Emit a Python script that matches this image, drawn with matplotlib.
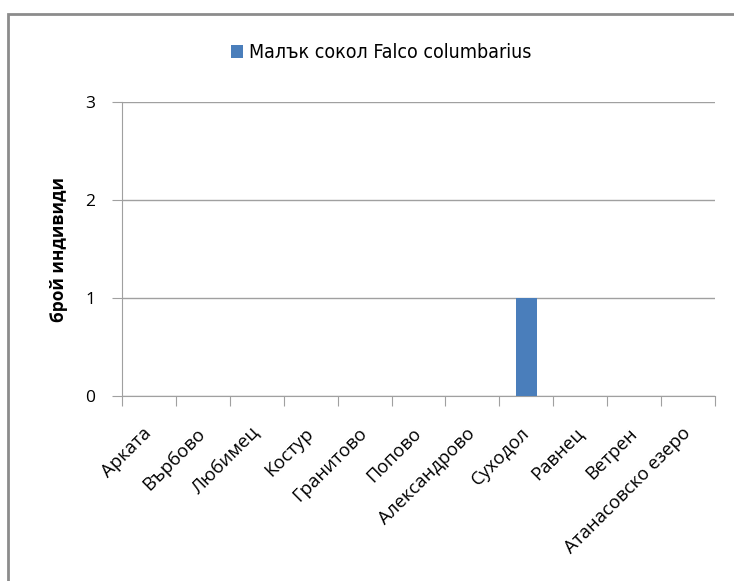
import numpy as np
from matplotlib import pyplot as plt
from matplotlib.patches import Rectangle

plt.rcParams['font.family'] = ['Open Sans', 'DejaVu Sans']

sites = ["Арката", "Върбово", "Любимец", "Костур", "Гранитово", "Попово",
         "Александрово", "Суходол", "Равнец", "Ветрен", "Атанасовско езеро"]
counts = [0, 0, 0, 0, 0, 0, 0, 1, 0, 0, 0]
series_name = "Малък сокол Falco columbarius"
y_ticks = [0, 1, 2, 3]

fig = plt.figure(figsize=(7.34, 5.81), dpi=100)
ax = fig.add_axes([0.1662, 0.3184, 0.808, 0.506])

# outer chart frame (cropped on right and bottom)
fig.patches.append(Rectangle((0.0109, -0.1), 1.2, 1.076, transform=fig.transFigure,
                             fill=False, edgecolor="#8c8c8c", linewidth=2))

x = np.arange(len(sites))
bars = ax.bar(x, counts, width=0.39, color="#4a7ebb", label=series_name, zorder=3)

ax.set_xlim(-0.5, len(sites) - 0.5)
ax.set_ylim(0, 3)
ax.set_yticks(y_ticks)
ax.set_yticklabels([str(v) for v in y_ticks], fontsize=12.5)
ax.yaxis.grid(True, color="#a0a0a0", linewidth=1, zorder=0)
ax.tick_params(axis='y', length=7, color="#a0a0a0", pad=12)

ax.set_xticks(np.arange(len(sites) + 1) - 0.5)
ax.set_xticklabels([])
ax.set_xticks(x, minor=True)
ax.set_xticklabels(sites, minor=True, rotation=45, ha='right', va='center',
                   rotation_mode='anchor', fontsize=13.3)
ax.tick_params(axis='x', which='major', length=7, color="#a0a0a0")
ax.tick_params(axis='x', which='minor', length=0, pad=25)

for s in ['top', 'right']:
    ax.spines[s].set_visible(False)
ax.spines['left'].set_color("#a0a0a0")
ax.spines['bottom'].set_color("#a0a0a0")

ax.set_ylabel("брой индивиди", fontsize=12.5, fontweight='bold', labelpad=13)

fig.legend(loc='center', bbox_to_anchor=(0.519, 0.909), frameon=False,
           prop={'family': ['DejaVu Sans'], 'stretch': 'condensed', 'size': 14},
           handlelength=0.65, handleheight=0.65, handletextpad=0.3)

fig.savefig("out.png", dpi=100)
